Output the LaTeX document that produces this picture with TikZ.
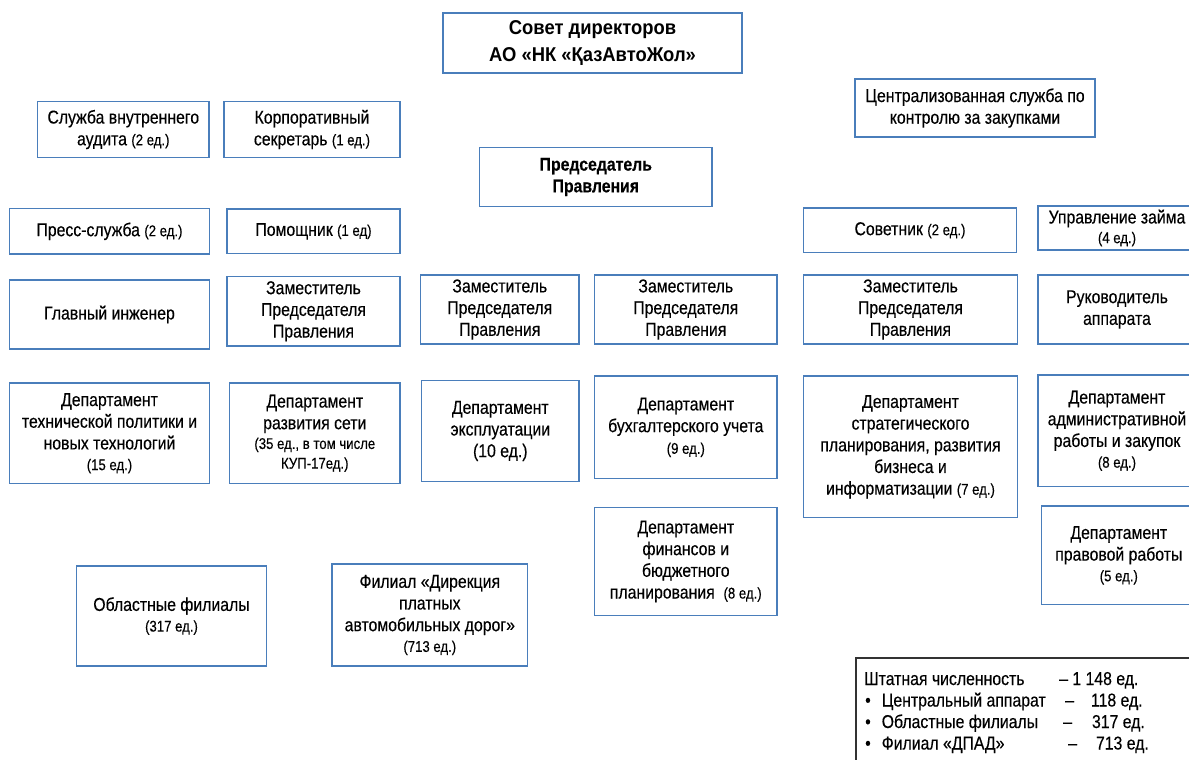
\documentclass[tikz,border=0pt]{standalone}
\usepackage{fontspec}
\setmainfont{Liberation Sans}[FakeStretch=0.85,FakeBold=0.3]
\newfontfamily\titlefont{Liberation Sans}[FakeStretch=0.92]
\definecolor{boxblue}{RGB}{74,126,187}
\definecolor{framegray}{RGB}{50,50,50}
\newcommand{\edn}[1]{{\fontsize{15.5}{18}\selectfont #1}}
\begin{document}
\begin{tikzpicture}[x=1pt,y=-1pt,
    unit/.style={draw=boxblue,line width=1.3pt,inner sep=0pt,align=center,font=\fontsize{18.6}{21.7}\selectfont},
    boss/.style={unit,font=\bfseries\fontsize{18.6}{21.7}\selectfont},
    boxsize/.style 2 args={minimum width=#1pt,minimum height=#2pt},
    legendline/.style={anchor=base west,inner sep=0pt,font=\fontsize{18.6}{21.7}\selectfont}]
        \useasboundingbox (0,0) rectangle (1189,760);

        \node[boss,font=\titlefont\bfseries\fontsize{20}{27.7}\selectfont,boxsize={299}{60}] (board) at (592.5,43) {Совет директоров\\АО «НК «ҚазАвтоЖол»};
        \node[boss,boxsize={232.5}{59}] (chair) at (595.8,177) {Председатель\\Правления};
        \node[unit,boxsize={240}{58}] (procure) at (975,108) {Централизованная служба по\\контролю за закупками};

        \node[unit,boxsize={171.5}{56}] (audit) at (123.3,129.5) {Служба внутреннего\\аудита \edn{(2 ед.)}};
        \node[unit,boxsize={176}{56}] (secretary) at (312,129.5) {Корпоративный\\секретарь \edn{(1 ед.)}};
        \node[unit,boxsize={200}{45.5}] (press) at (109.5,231.3) {Пресс-служба \edn{(2 ед.)}};
        \node[unit,boxsize={173}{44.5}] (assistant) at (313.5,231.3) {Помощник \edn{(1 ед)}};
        \node[unit,boxsize={213}{44.5}] (advisor) at (910,230.3) {Советник \edn{(2 ед.)}};
        \node[unit,boxsize={158}{44}] (loan) at (1117,228) {Управление займа\\[-2pt]\edn{(4 ед.)}};

        \node[unit,boxsize={200}{69}] (engineer) at (109.5,314.5) {Главный инженер};
        \node[unit,boxsize={173}{69.5}] (deputyA) at (313.5,311.3) {Заместитель\\Председателя\\Правления};
        \node[unit,boxsize={158.5}{69}] (deputyB) at (499.8,309.5) {Заместитель\\Председателя\\Правления};
        \node[unit,boxsize={182.5}{69}] (deputyC) at (685.8,309.5) {Заместитель\\Председателя\\Правления};
        \node[unit,boxsize={214}{69}] (deputyD) at (910.5,309.5) {Заместитель\\Председателя\\Правления};
        \node[unit,boxsize={158}{69}] (office) at (1117,309.5) {Руководитель\\аппарата};

        \node[unit,boxsize={200}{100.5}] (techdep) at (109.5,433.3) {Департамент\\технической политики и\\новых технологий\\[-1pt]\edn{(15 ед.)}};
        \node[unit,boxsize={170.5}{100.5}] (netdep) at (314.8,433.3) {Департамент\\развития сети\\[-2pt]\edn{(35 ед., в том числе}\\[-2pt]\edn{КУП-17ед.)}};
        \node[unit,boxsize={157.5}{101}] (operdep) at (500.3,431) {Департамент\\эксплуатации\\(10 ед.)};
        \node[unit,boxsize={182.5}{102.5}] (accdep) at (685.8,427.3) {Департамент\\бухгалтерского учета\\\edn{(9 ед.)}};
        \node[unit,boxsize={214}{141.5}] (stratdep) at (910.5,446.8) {Департамент\\стратегического\\планирования, развития\\бизнеса и\\информатизации \edn{(7 ед.)}};
        \node[unit,boxsize={158}{111.5}] (admdep) at (1117,430.8) {Департамент\\административной\\работы и закупок\\[-1pt]\edn{(8 ед.)}};
        \node[unit,boxsize={182.5}{108}] (findep) at (685.8,561.5) {Департамент\\финансов и\\бюджетного\\планирования~~\edn{(8 ед.)}};
        \node[unit,boxsize={154.5}{98.5}] (lawdep) at (1118.8,555.3) {Департамент\\правовой работы\\[-1pt]\edn{(5 ед.)}};

        \node[unit,boxsize={190}{100}] (regions) at (171.5,616) {Областные филиалы\\[-1pt]\edn{(317 ед.)}};
        \node[unit,boxsize={195.5}{102}] (tollroads) at (429.8,615) {Филиал «Дирекция\\платных\\автомобильных дорог»\\[-1pt]\edn{(713 ед.)}};

        \node[draw=framegray,line width=1.5pt,anchor=north west,boxsize={360}{130}] (staff) at (855,657) {};
        \node[legendline] (total) at (864,685) {Штатная численность};
        \node[legendline] (totalnum) at (1059,685) {– 1 148 ед.};
        \node[legendline] (central) at (865,706.5) {•\hspace{11pt}Центральный аппарат};
        \node[legendline] (centralnum) at (1065,706.5) {–\hspace{17pt}118 ед.};
        \node[legendline] (regional) at (865,728) {•\hspace{11pt}Областные филиалы};
        \node[legendline] (regionalnum) at (1063,728) {–\hspace{20pt}317 ед.};
        \node[legendline] (branch) at (865,749.5) {•\hspace{11pt}Филиал «ДПАД»};
        \node[legendline] (branchnum) at (1068,749.5) {–\hspace{19pt}713 ед.};
    \end{tikzpicture}
\end{document}
